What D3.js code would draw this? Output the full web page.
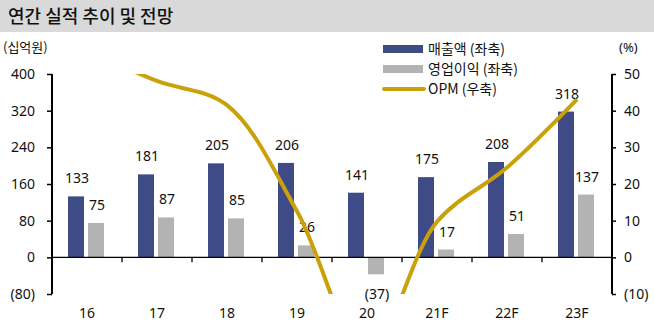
<!DOCTYPE html>
<html><head><meta charset="utf-8">
<script src="https://cdn.jsdelivr.net/npm/d3@7"></script>
<style>
html,body{margin:0;padding:0;background:#fff;}
svg text{font-family:"Noto Sans","Noto Sans CJK KR",sans-serif;}
</style></head>
<body><svg id="c" width="654" height="325"></svg>
<script>
const categories = ["16","17","18","19","20","21F","22F","23F"];
const revenue = [133,181,205,206,141,175,208,318];
const opProfit = [75,87,85,26,-37,17,51,137];
const opm = [56.4,48.1,41.5,12.6,-26.2,9.7,24.5,43.1];
const leftTicks = [-80,0,80,160,240,320,400];
const rightTicks = [-10,0,10,20,30,40,50];
const legendLabels = ["매출액 (좌축)","영업이익 (좌축)","OPM (우축)"];

const colBlue = "#3e4b87", colGray = "#b3b3b3", colGold = "#c9a10b";
const svg = d3.select("#c");
const L = 52, R = 612, T = 74, B = 294;

svg.append("rect").attr("x",0).attr("y",0).attr("width",654).attr("height",32).attr("fill","#d9d9d9");
svg.append("text").attr("x",8).attr("y",23).attr("font-size",18).attr("font-weight",500)
  .style("font-family","'Noto Sans CJK KR',sans-serif").attr("fill","#111").text("연간 실적 추이 및 전망");

const x = d3.scaleBand().domain(categories).range([L,R]);
const yL = d3.scaleLinear().domain([-80,400]).range([B,T]);
const yR = d3.scaleLinear().domain([-10,50]).range([B,T]);
const fmt = v => v<0 ? "("+Math.abs(v)+")" : String(v);

// bars
const g = svg.append("g");
const bw = 16;
g.selectAll(".rev").data(revenue).join("rect")
  .attr("x",(d,i)=>x(categories[i])+x.bandwidth()/2-19).attr("width",bw)
  .attr("y",d=>yL(Math.max(0,d))).attr("height",d=>Math.abs(yL(d)-yL(0))).attr("fill",colBlue);
g.selectAll(".op").data(opProfit).join("rect")
  .attr("x",(d,i)=>x(categories[i])+x.bandwidth()/2+1).attr("width",bw)
  .attr("y",d=>yL(Math.max(0,d))).attr("height",d=>Math.abs(yL(d)-yL(0))).attr("fill",colGray);

// labels
g.selectAll(".revl").data(revenue).join("text")
  .attr("x",(d,i)=>x(categories[i])+x.bandwidth()/2-10).attr("y",d=>yL(d)-13)
  .attr("text-anchor","middle").attr("font-size",14).attr("fill","#111").text(fmt);
g.selectAll(".opl").data(opProfit).join("text")
  .attr("x",(d,i)=>x(categories[i])+x.bandwidth()/2+10).attr("y",d=> d<0 ? yL(d)+25 : yL(d)-13)
  .attr("text-anchor","middle").attr("font-size",14).attr("fill","#111").text(fmt);

// zero line
svg.append("line").attr("x1",L).attr("x2",R).attr("y1",yL(0)).attr("y2",yL(0)).attr("stroke","#000").attr("stroke-width",1.3);
categories.slice(1).forEach(c=>{
  svg.append("line").attr("x1",x(c)).attr("x2",x(c)).attr("y1",yL(0)).attr("y2",yL(0)+5).attr("stroke","#000").attr("stroke-width",1.3);
});

// OPM line
svg.append("clipPath").attr("id","clip").append("rect").attr("x",L).attr("y",T).attr("width",R-L).attr("height",B-T);
const line = d3.line().x((d,i)=>x(categories[i])+x.bandwidth()/2).y(d=>yR(d)).curve(d3.curveCatmullRom.alpha(0.5));
svg.append("path").datum(opm).attr("d",line).attr("fill","none").attr("stroke",colGold)
  .attr("stroke-width",4).attr("clip-path","url(#clip)");

// axes
const axL = svg.append("g").attr("transform",`translate(${L},0)`)
  .call(d3.axisLeft(yL).tickValues(leftTicks).tickSize(5).tickPadding(12).tickFormat(fmt));
const axR = svg.append("g").attr("transform",`translate(${R},0)`)
  .call(d3.axisRight(yR).tickValues(rightTicks).tickSize(4).tickPadding(8).tickFormat(fmt));
[axL,axR].forEach(a=>{
  a.select(".domain").attr("stroke","#000").attr("stroke-width",2);
  a.selectAll(".tick line").attr("stroke","#000").attr("stroke-width",1.5);
  a.selectAll("text").attr("font-size",14).attr("fill","#111").style("font-family","'Noto Sans',sans-serif");
});
axL.select(".domain").attr("d",`M0,${T}V${B}`);
axR.select(".domain").attr("d",`M0,${T}V${B}`);

// x labels
svg.selectAll(".xl").data(categories).join("text")
  .attr("x",d=>x(d)+x.bandwidth()/2).attr("y",318).attr("text-anchor","middle")
  .attr("font-size",14).attr("fill","#111").text(d=>d);

// unit labels
svg.append("text").attr("x",3).attr("y",52).attr("font-size",13).attr("fill","#111")
  .style("font-family","'Noto Sans CJK KR',sans-serif").text("(십억원)");
svg.append("text").attr("x",619).attr("y",52).attr("font-size",13).attr("fill","#111").text("(%)");

// legend
const legY = [49,69,89];
const cols = [colBlue,colGray,colGold];
legendLabels.forEach((t,i)=>{
  if(i<2) svg.append("rect").attr("x",383).attr("y",legY[i]-4).attr("width",40).attr("height",8).attr("fill",cols[i]);
  else svg.append("line").attr("x1",384).attr("x2",424).attr("y1",legY[i]).attr("y2",legY[i]).attr("stroke",cols[i]).attr("stroke-width",4).attr("stroke-linecap","round");
  svg.append("text").attr("x",428).attr("y",legY[i]+5).attr("font-size",14).attr("fill","#111")
    .style("font-family","'Noto Sans CJK KR',sans-serif").text(t);
});
</script></body></html>
